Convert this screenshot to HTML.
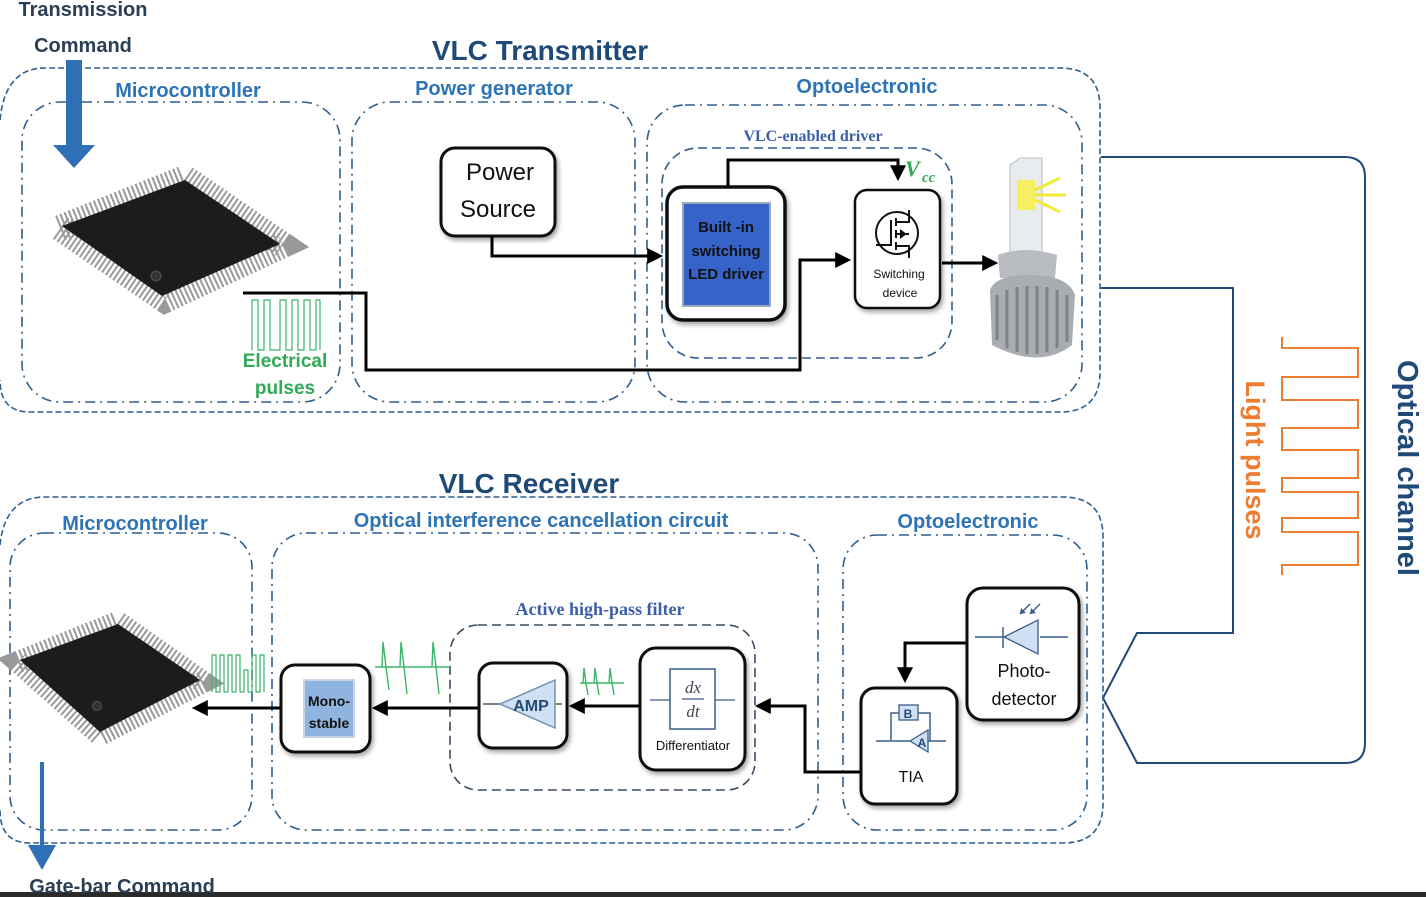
<!DOCTYPE html>
<html><head><meta charset="utf-8"><style>
html,body{margin:0;padding:0;background:#fff;}
svg{display:block;}
text{font-family:"Liberation Sans",sans-serif;}
</style></head><body>
<svg width="1426" height="897" viewBox="0 0 1426 897" xmlns="http://www.w3.org/2000/svg">
<defs>
<marker id="ah" markerWidth="8" markerHeight="8" refX="6" refY="4" orient="auto" markerUnits="userSpaceOnUse"><path d="M0,0 L8,4 L0,8 z" fill="#000"/></marker>
<marker id="ahb" viewBox="0 0 10 10" markerWidth="16" markerHeight="16" refX="8" refY="5" orient="auto" markerUnits="userSpaceOnUse"><path d="M0,0 L10,5 L0,10 z" fill="#000"/></marker>
<filter id="sh" x="-20%" y="-20%" width="140%" height="140%"><feDropShadow dx="2" dy="3" stdDeviation="2.5" flood-color="#000" flood-opacity="0.35"/></filter>
</defs>
<rect width="1426" height="897" fill="#fff"/>
<rect x="0" y="892" width="1426" height="5" fill="#2a2a2a"/>

<!-- Transmitter -->
<g fill="none" stroke="#2f5f8f" stroke-width="1.6">
<path d="M0,120 Q5,68 45,68 H1060 Q1100,68 1100,108 V372 Q1100,412 1060,412 H30 Q0,412 0,380" stroke-dasharray="6,3"/>
<g stroke-dasharray="10,5,2,5">
<rect x="22" y="102" width="318" height="300" rx="38"/>
<rect x="352" y="102" width="283" height="300" rx="38"/>
<rect x="647" y="105" width="435" height="297" rx="38"/>
</g>
<rect x="662" y="148" width="290" height="210" rx="36" stroke-dasharray="9,5"/>
</g>
<text x="540" y="60" font-size="28" font-weight="bold" fill="#1f4a78" text-anchor="middle">VLC Transmitter</text>
<text x="188" y="97" font-size="20" font-weight="bold" fill="#2e74b5" text-anchor="middle">Microcontroller</text>
<text x="494" y="95" font-size="20" font-weight="bold" fill="#2e74b5" text-anchor="middle">Power generator</text>
<text x="867" y="93" font-size="20" font-weight="bold" fill="#2e74b5" text-anchor="middle">Optoelectronic</text>
<text x="813" y="141" font-size="16" font-weight="bold" fill="#3a5ea8" text-anchor="middle" font-family="Liberation Serif,serif" style="font-family:'Liberation Serif',serif">VLC-enabled driver</text>
<text x="83" y="16" font-size="20" font-weight="bold" fill="#2a3f55" text-anchor="middle">Transmission</text>
<text x="83" y="52" font-size="20" font-weight="bold" fill="#2a3f55" text-anchor="middle">Command</text>
<path d="M66,60 H82 V145 H95 L74,168 L53,145 H66 Z" fill="#2e6fb5"/>

<!-- TX chip -->
<path d="M60,228 L185,178 L283,245 L165,300 Z" fill="none" stroke="#999" stroke-width="26" stroke-dasharray="2,2.5"/>
<path d="M62,226 L185,180 L280,244 L162,296 Z" fill="#1c1c1c"/>
<circle cx="156" cy="276" r="5" fill="#333" stroke="#555"/>

<!-- electrical pulses -->
<path d="M252,350 V300 H258 V350 H264 V300 H270 V350 H280 V300 H286 V350 H292 V300 H298 V350 H304 V300 H310 V350 H316 V300 H320 V350" fill="none" stroke="#3cb56a" stroke-width="1.2"/>
<text x="285" y="367" font-size="19" font-weight="bold" fill="#2faa55" text-anchor="middle">Electrical</text>
<text x="285" y="394" font-size="19" font-weight="bold" fill="#2faa55" text-anchor="middle">pulses</text>

<!-- Power source -->
<rect x="441" y="148" width="114" height="88" rx="14" fill="#fff" stroke="#111" stroke-width="3" filter="url(#sh)"/>
<text x="500" y="180" font-size="24" fill="#111" text-anchor="middle">Power</text>
<text x="498" y="217" font-size="24" fill="#111" text-anchor="middle">Source</text>

<!-- lines -->
<g fill="none" stroke="#000" stroke-width="3">
<path d="M492,236 V256 H660" marker-end="url(#ahb)"/>
<path d="M243,293 H366 V370 H800 V260 H848" marker-end="url(#ahb)"/>
<path d="M728,187 V160 H898 V178" marker-end="url(#ahb)"/>
<path d="M942,263 H995" marker-end="url(#ahb)"/>
</g>

<!-- built-in driver -->
<rect x="667" y="187" width="118" height="133" rx="16" fill="#fff" stroke="#111" stroke-width="3.5" filter="url(#sh)"/>
<rect x="683" y="203" width="87" height="103" fill="#3563c8" stroke="#9ab" stroke-width="2"/>
<text x="726" y="232" font-size="15" font-weight="bold" fill="#111" text-anchor="middle">Built -in</text>
<text x="726" y="256" font-size="15" font-weight="bold" fill="#111" text-anchor="middle">switching</text>
<text x="726" y="279" font-size="15" font-weight="bold" fill="#111" text-anchor="middle">LED driver</text>

<!-- switching device -->
<rect x="855" y="190" width="85" height="118" rx="12" fill="#fff" stroke="#111" stroke-width="2.5" filter="url(#sh)"/>
<circle cx="897" cy="233" r="21" fill="none" stroke="#111" stroke-width="2"/>
<path d="M876,245 H891 M891,220 V246 M896,218 V226 M896,230 V238 M896,242 V250 M896,222 H909 V210 M896,234 H909 M896,246 H909 V258 M905,234 l-4,-3 v6 z" fill="none" stroke="#111" stroke-width="2"/>
<text x="899" y="278" font-size="12" fill="#111" text-anchor="middle">Switching</text>
<text x="900" y="297" font-size="12" fill="#111" text-anchor="middle">device</text>
<text x="905" y="176" font-size="22" font-style="italic" font-weight="bold" fill="#2faa55" style="font-family:'Liberation Serif',serif">V</text>
<text x="922" y="182" font-size="15" font-style="italic" font-weight="bold" fill="#2faa55" style="font-family:'Liberation Serif',serif">cc</text>

<!-- LED bulb -->
<path d="M1010,165 L1020,158 H1042 V265 H1010 Z" fill="#e9ecef" stroke="#bbb"/>
<rect x="1017" y="180" width="18" height="30" fill="#f5f060"/>
<g stroke="#f2ea3a" stroke-width="3" fill="none"><path d="M1035,190 L1060,178 M1035,195 H1066 M1035,200 L1060,212"/></g>
<path d="M998,255 Q1025,245 1057,255 L1055,278 H1000 Z" fill="#b8bcc0"/>
<path d="M990,290 Q995,275 1030,275 Q1068,275 1075,295 L1072,345 Q1040,370 992,345 Z" fill="#a9adb2"/>
<path d="M997,295 V340 M1007,290 V348 M1017,287 V352 M1027,286 V354 M1037,286 V354 M1047,287 V352 M1057,290 V348 M1067,295 V342" stroke="#7e8388" stroke-width="3"/>

<!-- optical channel -->
<g fill="none" stroke="#1f4a78" stroke-width="2">
<path d="M1101,157 H1345 Q1365,157 1365,177 V743 Q1365,763 1345,763 H1137 L1103,698 L1137,633 H1233 V288 H1101"/>
</g>
<path d="M1282,337 V348 H1358 V377 H1282 V400 H1358 V428 H1282 V450 H1358 V478 H1282 V492 H1358 V518 H1282 V532 H1358 V565 H1282 V575" fill="none" stroke="#ed7d31" stroke-width="2"/>
<text transform="translate(1246,460) rotate(90)" font-size="27" font-weight="bold" fill="#ed7d31" text-anchor="middle">Light pulses</text>
<text transform="translate(1398,468) rotate(90)" font-size="29" font-weight="bold" fill="#1f4a78" text-anchor="middle">Optical channel</text>

<!-- Receiver -->
<g fill="none" stroke="#2f5f8f" stroke-width="1.6">
<path d="M0,545 Q5,497 45,497 H1063 Q1103,497 1103,537 V803 Q1103,843 1063,843 H30 Q0,843 0,810" stroke-dasharray="6,3"/>
<g stroke-dasharray="10,5,2,5">
<rect x="10" y="533" width="242" height="297" rx="34"/>
<rect x="272" y="533" width="546" height="297" rx="34"/>
<rect x="843" y="535" width="244" height="295" rx="34"/>
</g>
<rect x="450" y="625" width="305" height="165" rx="28" stroke="#3a4c60" stroke-dasharray="9,5"/>
</g>
<text x="529" y="493" font-size="28" font-weight="bold" fill="#1f4a78" text-anchor="middle">VLC Receiver</text>
<text x="135" y="530" font-size="20" font-weight="bold" fill="#2e74b5" text-anchor="middle">Microcontroller</text>
<text x="541" y="527" font-size="20" font-weight="bold" fill="#2e74b5" text-anchor="middle">Optical interference cancellation circuit</text>
<text x="968" y="528" font-size="20" font-weight="bold" fill="#2e74b5" text-anchor="middle">Optoelectronic</text>
<text x="600" y="615" font-size="18" font-weight="bold" fill="#3a5ea8" text-anchor="middle" style="font-family:'Liberation Serif',serif">Active high-pass filter</text>

<!-- RX chip -->
<path d="M18,662 L118,622 L203,682 L100,735 Z" fill="none" stroke="#999" stroke-width="22" stroke-dasharray="2,2.5"/>
<path d="M20,660 L118,624 L200,680 L100,732 Z" fill="#1c1c1c"/>
<circle cx="97" cy="706" r="4.5" fill="#333" stroke="#555"/>
<path d="M212,692 V655 H216 V692 H220 V655 H224 V692 H228 V655 H232 V692 H236 V655 H240 V692 H244 V670 H248 V692 H252 V655 H256 V692 H260 V655 H264 V692" fill="none" stroke="#3cb56a" stroke-width="1.2"/>
<path d="M40,762 V845 H28 L42,870 L56,845 H44 V762 Z" fill="#2e6fb5"/>
<text x="122" y="893" font-size="20" font-weight="bold" fill="#2a3f55" text-anchor="middle">Gate-bar Command</text>

<!-- spikes -->
<g fill="none" stroke="#3cb56a" stroke-width="1.4">
<path d="M375,667 H450 M382,667 L383,642 L386,667 L389,690 M400,667 L401,642 L404,667 L407,694 M432,667 L433,642 L436,667 L439,694"/>
<path d="M580,683 H624 M583,683 L584,668 L586,683 L588,695 M594,683 L595,668 L597,683 L599,695 M609,683 L610,668 L612,683 L614,695"/>
</g>

<!-- RX lines -->
<g fill="none" stroke="#000" stroke-width="3">
<path d="M860,772 H805 V706 H758" marker-end="url(#ahb)"/>
<path d="M640,706 H572" marker-end="url(#ahb)"/>
<path d="M478,708 H375" marker-end="url(#ahb)"/>
<path d="M280,708 H195" marker-end="url(#ahb)"/>
<path d="M966,643 H905 V680" marker-end="url(#ahb)"/>
</g>

<!-- Monostable -->
<rect x="281" y="665" width="89" height="87" rx="14" fill="#fff" stroke="#111" stroke-width="3" filter="url(#sh)"/>
<rect x="304" y="680" width="50" height="57" fill="#8fb4e0" stroke="#c8d4e4" stroke-width="2"/>
<text x="329" y="706" font-size="14" font-weight="bold" fill="#111" text-anchor="middle">Mono-</text>
<text x="329" y="728" font-size="14" font-weight="bold" fill="#111" text-anchor="middle">stable</text>

<!-- AMP -->
<rect x="479" y="663" width="88" height="85" rx="14" fill="#fff" stroke="#111" stroke-width="3" filter="url(#sh)"/>
<path d="M483,704 H500 M555,704 H562" stroke="#555" stroke-width="1.5"/>
<path d="M500,704 L555,680 V728 Z" fill="#cfe0f3" stroke="#6d8fb5" stroke-width="1.5"/>
<text x="531" y="711" font-size="16" font-weight="bold" fill="#1f4a78" text-anchor="middle">AMP</text>

<!-- Differentiator -->
<rect x="640" y="648" width="105" height="122" rx="16" fill="#fff" stroke="#111" stroke-width="3" filter="url(#sh)"/>
<rect x="670" y="669" width="45" height="60" fill="#fff" stroke="#3a5e88" stroke-width="1.5"/>
<path d="M650,700 H670 M715,700 H735 M682,699 H704" stroke="#3a5e88" stroke-width="1.3"/>
<text x="693" y="693" font-size="17" font-style="italic" fill="#445" text-anchor="middle" style="font-family:'Liberation Serif',serif">dx</text>
<text x="693" y="717" font-size="17" font-style="italic" fill="#445" text-anchor="middle" style="font-family:'Liberation Serif',serif">dt</text>
<text x="693" y="750" font-size="13" fill="#111" text-anchor="middle">Differentiator</text>

<!-- TIA -->
<rect x="861" y="688" width="96" height="116" rx="14" fill="#fff" stroke="#111" stroke-width="3" filter="url(#sh)"/>
<path d="M876,741 H912 M926,741 H946 M891,741 V713 H899 M918,713 H930 V741" fill="none" stroke="#3a5e88" stroke-width="1.5"/>
<rect x="899" y="705" width="19" height="15" fill="#cfe0f3" stroke="#3a5e88" stroke-width="1.3"/>
<path d="M910,741 L928,730 V752 Z" fill="#cfe0f3" stroke="#3a5e88" stroke-width="1.3"/>
<text x="908" y="718" font-size="12" font-weight="bold" fill="#1f4a78" text-anchor="middle">B</text>
<text x="922" y="747" font-size="12" font-weight="bold" fill="#1f4a78" text-anchor="middle">A</text>
<text x="911" y="782" font-size="16" fill="#111" text-anchor="middle">TIA</text>

<!-- Photodetector -->
<rect x="967" y="588" width="112" height="132" rx="16" fill="#fff" stroke="#111" stroke-width="3" filter="url(#sh)"/>
<path d="M975,637 H1003 M1040,637 H1068 M1003,627 V648" stroke="#3a5e88" stroke-width="1.5"/>
<path d="M1004,637 L1038,620 V654 Z" fill="#cfe0f3" stroke="#3a5e88" stroke-width="1.3"/>
<path d="M1030,604 L1020,614 M1040,604 L1030,614" stroke="#3a5e88" stroke-width="1.5"/>
<path d="M1020,614 l1,-6 l5,5 z M1030,614 l1,-6 l5,5 z" fill="#3a5e88"/>
<text x="1024" y="677" font-size="18" fill="#111" text-anchor="middle">Photo-</text>
<text x="1024" y="705" font-size="18" fill="#111" text-anchor="middle">detector</text>
</svg>
</body></html>
